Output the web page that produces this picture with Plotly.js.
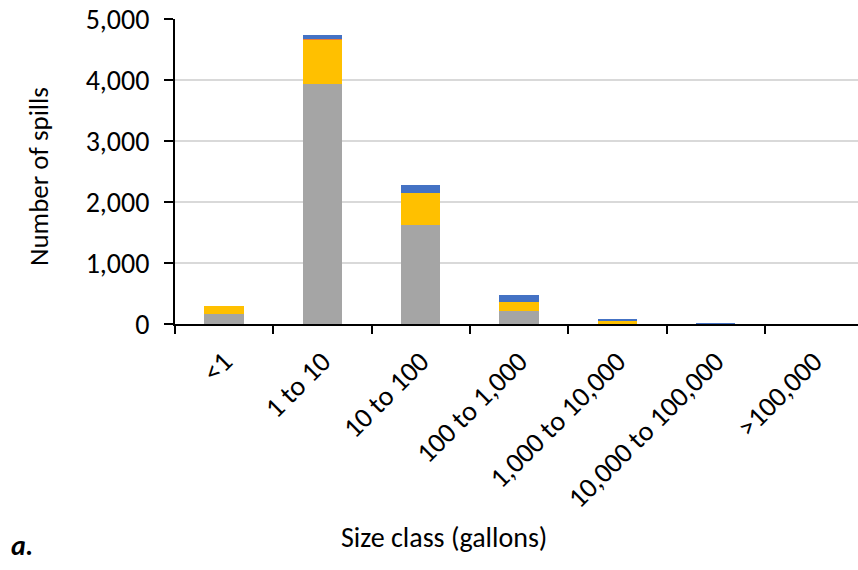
<!DOCTYPE html>
<html>
<head>
<meta charset="utf-8">
<script src="https://cdn.plot.ly/plotly-3.0.1.min.js"></script>
<style>
  html, body { margin: 0; padding: 0; background: #fff; }
  #chart { width: 858px; height: 570px; }
</style>
</head>
<body>
<div id="chart"></div>
<script>
// Spill counts by size class, stacked by category
const sizeClasses = ["<1", "1 to 10", "10 to 100", "100 to 1,000", "1,000 to 10,000", "10,000 to 100,000", ">100,000"];
const graySeries   = [164, 3940, 1625, 208, 8, 2, 1];
const yellowSeries = [132, 712, 515, 153, 38, 2, 0];
const orangeSeries = [2, 22, 4, 2, 1, 0, 0];
const blueSeries   = [5, 60, 140, 108, 42, 5, 1];
const yTickVals  = [0, 1000, 2000, 3000, 4000, 5000];
const yTickText  = ["0", "1,000", "2,000", "3,000", "4,000", "5,000"];

const FONT = "Carlito, Lato, 'Liberation Sans', sans-serif";
const FS = 28;

const colors = ["#A5A5A5", "#FFC000", "#ED7D31", "#4472C4"];
const series = [graySeries, yellowSeries, orangeSeries, blueSeries];

const traces = series.map((vals, i) => ({
  type: "bar",
  x: sizeClasses,
  y: vals,
  marker: { color: colors[i], line: { width: 0 } },
  hoverinfo: "x+y",
  showlegend: false
}));

const W = 858, H = 570;
const L = 175, T = 19, B = 246;
const plotW = W - L, plotH = H - T - B;

const layout = {
  width: W,
  height: H,
  margin: { l: L, r: 0, t: T, b: B, pad: 0 },
  paper_bgcolor: "#ffffff",
  plot_bgcolor: "#ffffff",
  barmode: "stack",
  bargap: 0.6,
  font: { family: FONT, color: "#000000", size: FS },
  xaxis: {
    type: "category",
    range: [-0.5, 6.448],
    tickson: "boundaries",
    ticks: "outside",
    ticklen: 8,
    tickwidth: 2,
    tickcolor: "#000000",
    showline: true,
    linecolor: "#000000",
    linewidth: 2,
    showgrid: false,
    tickangle: -45,
    ticklabelstandoff: 8,
    tickfont: { family: FONT, size: FS, color: "#000000" },
    fixedrange: true
  },
  yaxis: {
    range: [0, 5000],
    tickvals: yTickVals,
    ticktext: yTickText,
    ticks: "outside",
    ticklen: 9,
    tickwidth: 2,
    tickcolor: "#000000",
    showline: true,
    linecolor: "#000000",
    linewidth: 2,
    showgrid: true,
    gridcolor: "#D9D9D9",
    gridwidth: 2,
    zeroline: false,
    ticklabelstandoff: 9,
    tickfont: { family: FONT, size: FS, color: "#000000" },
    fixedrange: true
  },
  annotations: [
    {
      text: "Number of spills",
      xref: "paper", yref: "paper",
      x: (38 - L) / plotW, y: (H - B - 177) / plotH,
      xanchor: "center", yanchor: "middle",
      textangle: -90,
      showarrow: false,
      font: { family: FONT, size: 27, color: "#000000" }
    },
    {
      text: "Size class (gallons)",
      xref: "paper", yref: "paper",
      x: (444 - L) / plotW, y: -(537 - (H - B)) / plotH,
      xanchor: "center", yanchor: "middle",
      showarrow: false,
      font: { family: FONT, size: FS, color: "#000000" }
    },
    {
      text: "<b><i>a.</i></b>",
      xref: "paper", yref: "paper",
      x: (9 - L) / plotW, y: -(545 - (H - B)) / plotH,
      xanchor: "left", yanchor: "middle",
      showarrow: false,
      font: { family: FONT, size: FS, color: "#000000" }
    }
  ]
};

Plotly.newPlot("chart", traces, layout, { displayModeBar: false, staticPlot: true });
</script>
</body>
</html>
